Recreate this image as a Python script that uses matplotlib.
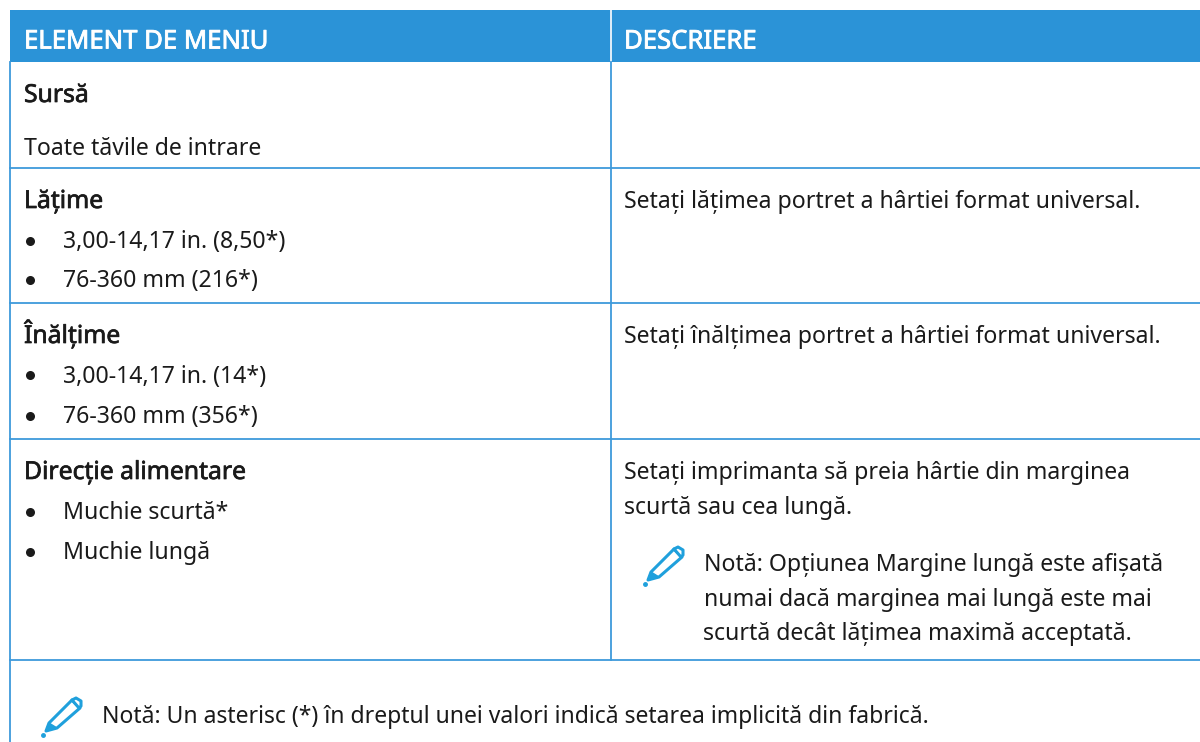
import matplotlib
matplotlib.use('Agg')
import matplotlib.pyplot as plt
import matplotlib.patheffects as pe
from matplotlib.patches import Polygon, Rectangle

BLUE = '#2B93D7'
LINE = '#3E9ADB'
ICON = '#1FA0DC'
TEXT = '#1a1a1a'

headers = ['ELEMENT DE MENIU', 'DESCRIERE']
row_lines = [168, 303, 439, 660]

# text, x, y (baseline)
left_col = [
    ('Sursă', 24, 102, True),
    ('Toate tăvile de intrare', 24, 155, False),
    ('Lățime', 24, 208, True),
    ('3,00-14,17 in. (8,50*)', 63, 248, False),
    ('76-360 mm (216*)', 63, 287, False),
    ('Înălțime', 24, 343, True),
    ('3,00-14,17 in. (14*)', 63, 383, False),
    ('76-360 mm (356*)', 63, 423, False),
    ('Direcție alimentare', 24, 479, True),
    ('Muchie scurtă*', 63, 519, False),
    ('Muchie lungă', 63, 559, False),
]
bullets_y = [241, 280, 375, 416, 512, 552]
right_col = [
    ('Setați lățimea portret a hârtiei format universal.', 624, 208),
    ('Setați înălțimea portret a hârtiei format universal.', 624, 343),
    ('Setați imprimanta să preia hârtie din marginea', 624, 479),
    ('scurtă sau cea lungă.', 624, 514),
    ('Notă: Opțiunea Margine lungă este afișată', 704, 571),
    ('numai dacă marginea mai lungă este mai', 704, 606),
    ('scurtă decât lățimea maximă acceptată.', 703, 640),
]
footnote = 'Notă: Un asterisc (*) în dreptul unei valori indică setarea implicită din fabrică.'

plt.rcParams['font.family'] = ['Noto Sans', 'DejaVu Sans']

fig = plt.figure(figsize=(12, 7.42), dpi=100)
ax = fig.add_axes([0, 0, 1, 1])
ax.set_xlim(0, 1200)
ax.set_ylim(742, 0)
ax.axis('off')

# thin outline gives the medium weight Noto Sans has not got here
medium = [pe.withStroke(linewidth=0.5, foreground=TEXT)]
medium_white = [pe.withStroke(linewidth=0.6, foreground='white')]


def pencil(x, y):
    # pencil icon, x/y is the tip
    body = [(3, -4), (6, -12), (29, -35), (37, -27), (14, -7)]
    pts = [(x + a, y + b) for a, b in body]
    ax.add_patch(Polygon(pts, closed=True, fill=False, ec=ICON, lw=2.2, joinstyle='round'))
    ax.add_patch(Polygon([(x + 29, y - 35), (x + 33, y - 37), (x + 38, y - 34), (x + 38, y - 29), (x + 36, y - 27)],
                         closed=True, fc='white', ec=ICON, lw=2.2, joinstyle='round'))
    ax.add_patch(Polygon([(x + 3, y - 4), (x + 6, y - 12), (x + 14, y - 7)], closed=True, fc=ICON, ec=ICON, lw=1))
    ax.plot(x, y, 'o', color=ICON, ms=2.5)


# header
ax.add_patch(Rectangle((10, 10), 1190, 52, fc=BLUE, ec='none'))
ax.plot([611, 611], [10, 62], color='white', lw=1.2)
ax.text(24, 48.5, headers[0], color='white', fontsize=18.5, va='baseline', path_effects=medium_white)
ax.text(624, 48.5, headers[1], color='white', fontsize=18.5, va='baseline', path_effects=medium_white)

# grid
ax.plot([10, 10], [62, 742], color=LINE, lw=1.3)
ax.plot([611, 611], [62, 660], color=LINE, lw=1.3)
for y in row_lines:
    ax.plot([10, 1200], [y, y], color=LINE, lw=1.3)

for t, x, y, bold in left_col:
    ax.text(x, y, t, color=TEXT, fontsize=17.8 if bold else 16.6, va='baseline',
            path_effects=medium if bold else None)
for y in bullets_y:
    ax.plot(30, y, 'o', color=TEXT, ms=6.5, mew=0)
for t, x, y in right_col:
    ax.text(x, y, t, color=TEXT, fontsize=16.6, va='baseline')

pencil(645, 584)
pencil(43, 735)
ax.text(102, 723, footnote, color=TEXT, fontsize=16.5, va='baseline')

fig.savefig('out.png', dpi=100)
